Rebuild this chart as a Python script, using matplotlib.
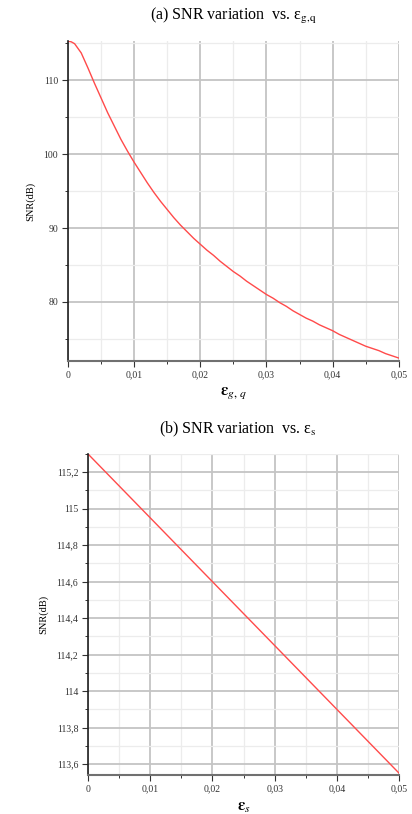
import matplotlib
matplotlib.use("Agg")
import matplotlib.pyplot as plt
from matplotlib.ticker import FixedLocator, MultipleLocator

plt.rcParams["font.family"] = ["Liberation Serif", "DejaVu Serif"]
plt.rcParams["mathtext.fontset"] = "stix"

# (a) SNR vs eps_{g,q}, every 0.001
eps_gq = [0, 0.0005, 0.001, 0.002, 0.003, 0.004, 0.005, 0.006, 0.007, 0.008,
          0.009, 0.010, 0.011, 0.012, 0.013, 0.014, 0.015, 0.016, 0.017,
          0.018, 0.019, 0.020, 0.021, 0.022, 0.023, 0.024, 0.025, 0.026,
          0.027, 0.028, 0.029, 0.030, 0.031, 0.032, 0.033, 0.034, 0.035,
          0.036, 0.037, 0.038, 0.039, 0.040, 0.041, 0.042, 0.043, 0.044,
          0.045, 0.046, 0.047, 0.048, 0.049, 0.050]
snr_gq = [115.3, 115.2, 114.95, 113.7, 111.7, 109.6, 107.6, 105.6, 103.8, 102.0,
          100.4, 98.9, 97.5, 96.1, 94.8, 93.6, 92.5, 91.4, 90.4,
          89.5, 88.6, 87.8, 87.0, 86.3, 85.5, 84.8, 84.1, 83.5,
          82.8, 82.2, 81.6, 81.0, 80.5, 79.9, 79.4, 78.8, 78.3,
          77.8, 77.4, 76.9, 76.5, 76.1, 75.6, 75.2, 74.8, 74.4,
          74.0, 73.7, 73.4, 73.0, 72.7, 72.4]

# (b) SNR vs eps_s
eps_s = [0, 0.01, 0.02, 0.03, 0.04, 0.05]
snr_s = [115.3, 114.95, 114.6, 114.25, 113.9, 113.55]

x_ticks = [0, 0.01, 0.02, 0.03, 0.04, 0.05]
x_labels = ["0", "0,01", "0,02", "0,03", "0,04", "0,05"]
ya_ticks = [80, 90, 100, 110]
ya_labels = ["80", "90", "100", "110"]
yb_ticks = [113.6, 113.8, 114.0, 114.2, 114.4, 114.6, 114.8, 115.0, 115.2]
yb_labels = ["113,6", "113,8", "114", "114,2", "114,4", "114,6", "114,8", "115", "115,2"]

LINE = "#ff4a4a"


def style(ax, yticks, ylabels, yminor):
    ax.set_xlim(0, 0.05)
    ax.xaxis.set_major_locator(FixedLocator(x_ticks))
    ax.set_xticklabels(x_labels)
    ax.xaxis.set_minor_locator(MultipleLocator(0.005))
    ax.yaxis.set_major_locator(FixedLocator(yticks))
    ax.set_yticklabels(ylabels)
    ax.yaxis.set_minor_locator(MultipleLocator(yminor))
    ax.grid(which="major", color="#c4c4c4", linewidth=1.3)
    ax.grid(which="minor", color="#ececec", linewidth=0.9)
    ax.set_axisbelow(True)
    for s in ("top", "right"):
        ax.spines[s].set_visible(False)
    ax.spines["left"].set_color("#202020")
    ax.spines["left"].set_linewidth(1.2)
    ax.spines["bottom"].set_color("#707070")
    ax.spines["bottom"].set_linewidth(1.5)
    ax.tick_params(which="major", direction="out", length=4, width=0.8,
                   labelsize=7, colors="#333333", pad=3)
    ax.tick_params(which="minor", direction="out", length=2.5, width=0.7,
                   colors="#333333")
    ax.set_ylabel("SNR(dB)", fontsize=7.5, labelpad=6)


fig = plt.figure(figsize=(4.12, 8.14), dpi=100)

ax1 = fig.add_axes([0.165, 0.5565, 0.803, 0.393])
ax1.plot(eps_gq, snr_gq, color=LINE, linewidth=1.0)
ax1.set_ylim(72.0, 115.3)
style(ax1, ya_ticks, ya_labels, 5)
ax1.set_xlabel(r"$\boldsymbol{\varepsilon}_{g,\,q}$", fontsize=12, labelpad=4)

ax2 = fig.add_axes([0.2136, 0.0479, 0.755, 0.3944])
ax2.plot(eps_s, snr_s, color=LINE, linewidth=1.0)
ax2.set_ylim(113.54, 115.3)
style(ax2, yb_ticks, yb_labels, 0.1)
ax2.set_xlabel(r"$\boldsymbol{\varepsilon}_s$", fontsize=12, labelpad=4)

fig.text(0.566, 0.980, r"(a) SNR variation  vs. ε$_{\mathrm{g{,}q}}$",
         ha="center", va="center", fontsize=11.5)
fig.text(0.578, 0.473, r"(b) SNR variation  vs. ε$_{\mathrm{s}}$",
         ha="center", va="center", fontsize=11.5)

fig.savefig("out.png", dpi=100)
